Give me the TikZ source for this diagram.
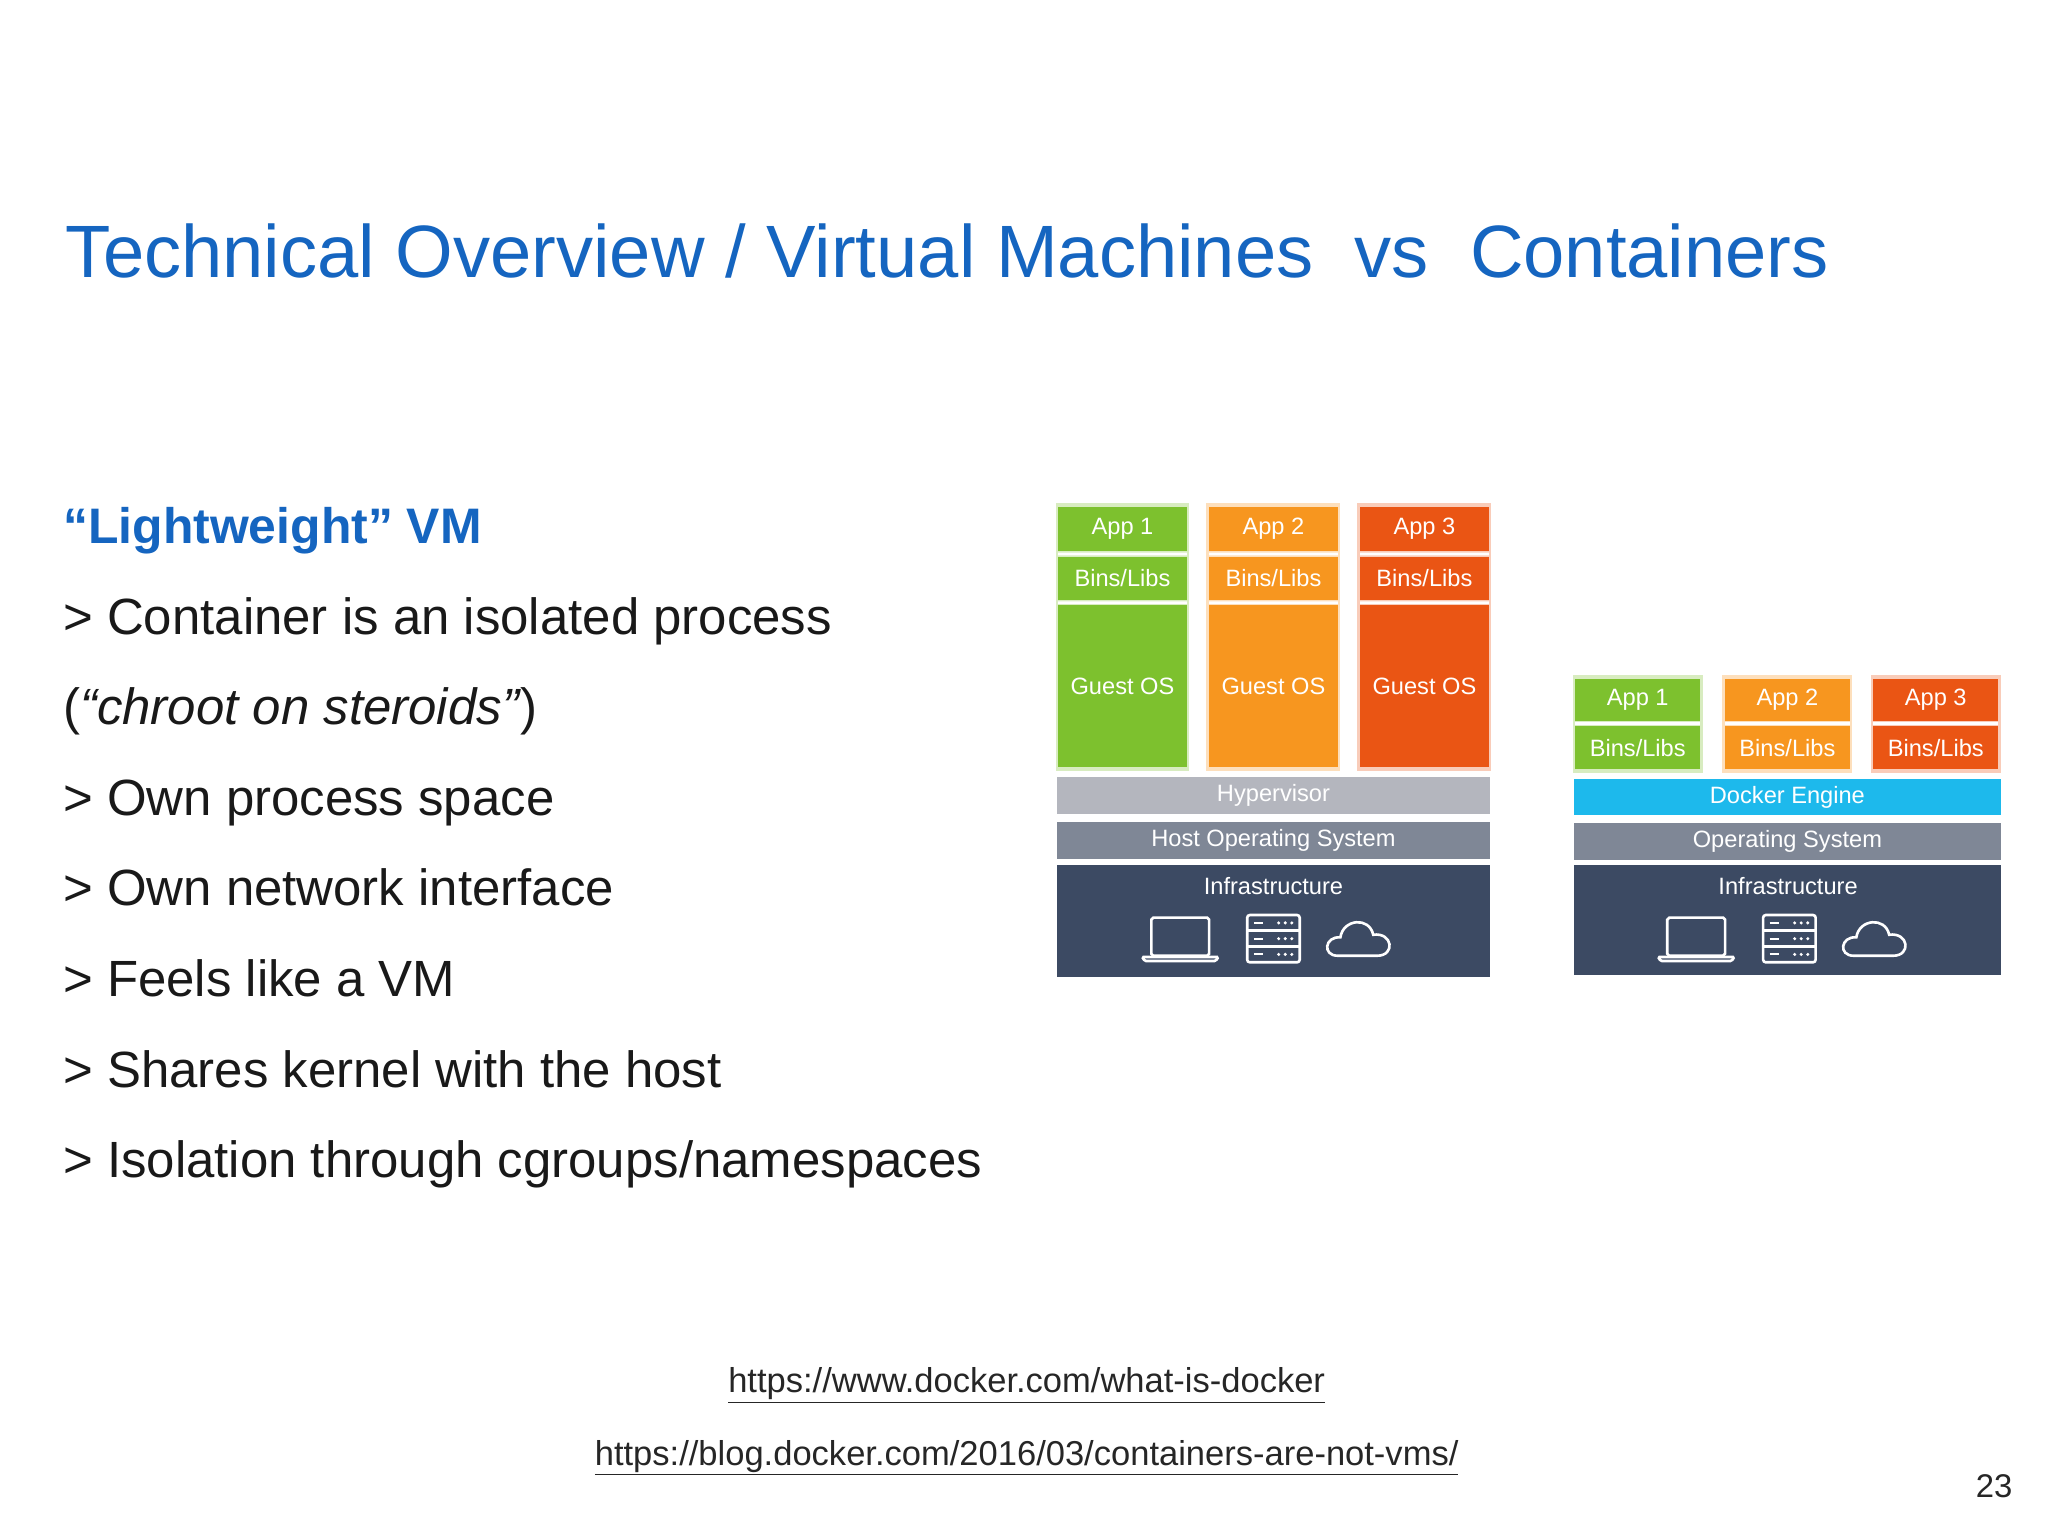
\documentclass[tikz,border=0pt]{standalone}
\usepackage{fontspec}
\setmainfont{Liberation Sans}
\definecolor{tblue}{HTML}{1565C0}
\definecolor{cgreen}{HTML}{7DC12E}
\definecolor{corange}{HTML}{F7961F}
\definecolor{cred}{HTML}{EA5514}
\definecolor{chyp}{HTML}{B4B6BE}
\definecolor{chost}{HTML}{7F8796}
\definecolor{cinfra}{HTML}{3C4A63}
\definecolor{cdock}{HTML}{1DB9EC}
\begin{document}
\begin{tikzpicture}[x=1pt,y=-1pt,
  lay/.style={text=white,font=\fontsize{18}{18}\selectfont,inner sep=0pt},
  body/.style={anchor=base west,font=\fontsize{38.8}{38.8}\selectfont,text=black!90,inner sep=0pt},
  ico/.style={draw=white,line width=2pt},
  link/.style={font=\fontsize{26.3}{26.3}\selectfont,text=black!85,inner sep=0pt,anchor=base}]
\useasboundingbox[fill=white] (0,0) rectangle (1560,1170);
\node[anchor=base west,inner sep=0pt,text=tblue,font=\fontsize{56.5}{56.5}\selectfont] (title) at (50,211) {Technical Overview / Virtual Machines\ \ vs\ \ Containers};
\node[body,text=tblue,font=\bfseries\fontsize{38}{38}\selectfont] (h) at (48,414) {“Lightweight” VM};
\node[body] (b1) at (48,483) {> Container is an isolated process};
\node[body] (b2) at (48,552) {(\textit{“chroot on steroids”})};
\node[body] (b3) at (48,621) {> Own process space};
\node[body] (b4) at (48,690) {> Own network interface};
\node[body] (b5) at (48,759) {> Feels like a VM};
\node[body] (b6) at (48,828) {> Shares kernel with the host};
\node[body] (b7) at (48,897) {> Isolation through cgroups/namespaces};
% VM stack
\foreach \x/\c/\n in {806/cgreen/1,921/corange/2,1036/cred/3}{
  \fill[\c!30] (\x-2,383) rectangle (\x+100,587);
  \fill[white] (\x,421) rectangle (\x+98,423) (\x,458) rectangle (\x+98,460);
  \fill[\c] (\x,386) rectangle (\x+98,420) node[lay,midway] {App \n};
  \fill[\c] (\x,424) rectangle (\x+98,457) node[lay,midway] {Bins/Libs};
  \fill[\c] (\x,461) rectangle (\x+98,584) node[lay,midway] {Guest OS};
}
\fill[chyp] (805,592) rectangle (1135,620) node[lay,midway] (hyp) {Hypervisor};
\fill[chost] (805,626) rectangle (1135,654) node[lay,midway] (host) {Host Operating System};
\fill[cinfra] (805,659) rectangle (1135,744);
\node[lay] (inf1) at (970,675) {Infrastructure};
% Container stack
\foreach \x/\c/\n in {1200/cgreen/1,1314/corange/2,1427/cred/3}{
  \fill[\c!30] (\x-2,514) rectangle (\x+97,589);
  \fill[white] (\x,550) rectangle (\x+95,552);
  \fill[\c] (\x,517) rectangle (\x+95,549) node[lay,midway] {App \n};
  \fill[\c] (\x,553) rectangle (\x+95,586) node[lay,midway] {Bins/Libs};
}
\fill[cdock] (1199,593) rectangle (1524,621) node[lay,midway] (dock) {Docker Engine};
\fill[chost] (1199,627) rectangle (1524,655) node[lay,midway] (os) {Operating System};
\fill[cinfra] (1199,659) rectangle (1524,743);
\node[lay] (inf2) at (1362,675) {Infrastructure};
% icons
\foreach \ox in {-3,390}{
 \begin{scope}[xshift=\ox]
  \draw[ico,rounded corners=1.5pt] (880,699) rectangle (924,728);
  \draw[ico,rounded corners=1pt] (873,729) -- (931,729) -- (929,732) -- (875,732) -- cycle;
  \draw[ico,rounded corners=2pt] (953,697) rectangle (993,733);
  \draw[ico] (953,709) -- (993,709) (953,721) -- (993,721);
  \foreach \yy in {703,715,727}{
    \draw[ico,line width=1.5pt] (958,\yy) -- (965,\yy);
    \foreach \dx in {977,982,987}{\fill[white] (\dx,\yy) circle (1.3);}
  }
  \draw[ico] (1022,728) .. controls (1010,728) and (1012,713) .. (1024,714)
     .. controls (1026,700) and (1046,698) .. (1049,712)
     .. controls (1064,710) and (1066,728) .. (1052,728) -- cycle;
 \end{scope}
}
\node[link] (l1) at (782,1061) {\underline{https://www.docker.com/what-is-docker}};
\node[link] (l2) at (782,1116) {\underline{https://blog.docker.com/2016/03/containers-are-not-vms/}};
\node[anchor=base east,inner sep=0pt,font=\fontsize{25}{25}\selectfont,text=black!85] (pg) at (1533,1141) {23};
\end{tikzpicture}
\end{document}
